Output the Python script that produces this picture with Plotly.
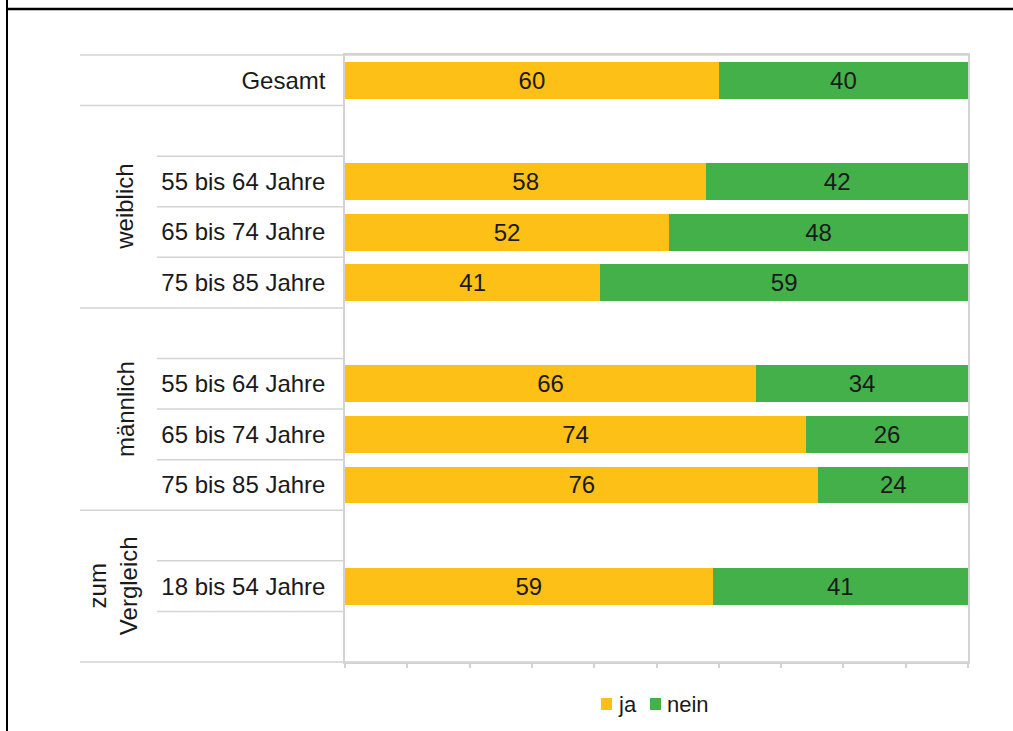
import plotly.graph_objects as go

# Rows of the chart, top to bottom (empty strings are spacer rows)
row_labels = ["Gesamt", "", "55 bis 64 Jahre", "65 bis 74 Jahre", "75 bis 85 Jahre",
              "", "55 bis 64 Jahre", "65 bis 74 Jahre", "75 bis 85 Jahre",
              "", "18 bis 54 Jahre", ""]
ja_values = [60, None, 58, 52, 41, None, 66, 74, 76, None, 59, None]
nein_values = [40, None, 42, 48, 59, None, 34, 26, 24, None, 41, None]

# Group captions: text and the rows they span
group_names = ["weiblich", "männlich", "zum<br>Vergleich"]
group_rows = [(1, 4), (5, 8), (9, 11)]

series_names = ["ja", "nein"]
series_colors = ["#FCC016", "#44B04A"]

W, H = 1013, 731
L, R, T, B = 345, 968, 55, 662  # plot area in pixels
FONT = "Arial, Liberation Sans, sans-serif"
TXT = "#1a1a1a"
GRID = "#D3D3D3"

def px_x(p):
    return (p - L) / (R - L)

def px_y(p):
    return (B - p) / (B - T)

rows = list(range(len(row_labels)))

fig = go.Figure()
for name, vals, col in zip(series_names, [ja_values, nein_values], series_colors):
    fig.add_trace(go.Bar(
        y=rows, x=vals, name=name, orientation="h",
        marker=dict(color=col, line=dict(width=0)),
        text=[("" if v is None else str(v)) for v in vals],
        textposition="inside", insidetextanchor="middle",
        textfont=dict(family=FONT, size=24, color=TXT),
        hoverinfo="skip", showlegend=False,
    ))

shapes = []
# row separators in the label column
full_bounds = [0.5, 4.5, 8.5]
short_bounds = [1.5, 2.5, 3.5, 5.5, 6.5, 7.5, 9.5, 10.5]
for b in full_bounds:
    shapes.append(dict(type="line", xref="paper", yref="y", x0=px_x(80), x1=0,
                       y0=b, y1=b, line=dict(color=GRID, width=1.5)))
for b in short_bounds:
    shapes.append(dict(type="line", xref="paper", yref="y", x0=px_x(157), x1=0,
                       y0=b, y1=b, line=dict(color=GRID, width=1.5)))
# top and bottom rules extending over the label column
for yy in [1, 0]:
    shapes.append(dict(type="line", xref="paper", yref="paper", x0=px_x(80), x1=1,
                       y0=yy, y1=yy, line=dict(color=GRID, width=1.5)))
# outer frame lines
shapes.append(dict(type="line", xref="paper", yref="paper", x0=px_x(7), x1=px_x(7),
                   y0=px_y(-5), y1=px_y(740), line=dict(color="black", width=2)))
shapes.append(dict(type="line", xref="paper", yref="paper", x0=px_x(6), x1=px_x(1020),
                   y0=px_y(9), y1=px_y(9), line=dict(color="black", width=2.5)))

annotations = []
for name, (r0, r1) in zip(group_names, group_rows):
    xc = 113 if "<br>" in name else 125
    annotations.append(dict(
        text=name, xref="paper", yref="y", x=px_x(xc), y=(r0 + r1) / 2,
        textangle=-90, showarrow=False, align="center",
        xanchor="center", yanchor="middle",
        font=dict(family=FONT, size=24, color=TXT),
    ))

# legend below the plot: colour square followed by series name
legend_sq_x = [601, 650]
legend_y = 704
for name, col, sx in zip(series_names, series_colors, legend_sq_x):
    shapes.append(dict(type="rect", xref="paper", yref="paper",
                       x0=px_x(sx), x1=px_x(sx + 11),
                       y0=px_y(legend_y - 6), y1=px_y(legend_y + 6),
                       fillcolor=col, line=dict(width=0)))
    annotations.append(dict(
        text=name, xref="paper", yref="paper", x=px_x(sx + 15), y=px_y(legend_y),
        xanchor="left", yanchor="middle", showarrow=False,
        font=dict(family=FONT, size=22, color=TXT),
    ))

fig.update_layout(
    width=W, height=H,
    margin=dict(l=L, r=W - R, t=T, b=H - B, pad=0),
    barmode="stack", bargap=0.27,
    plot_bgcolor="white", paper_bgcolor="white",
    showlegend=False,
    shapes=shapes, annotations=annotations,
    xaxis=dict(range=[0, 100], dtick=10, showgrid=False, zeroline=False,
               showticklabels=False, ticks="outside", ticklen=4, tickcolor=GRID, tickwidth=1.5,
               showline=True, linecolor=GRID, linewidth=1.5, mirror=True, fixedrange=True),
    yaxis=dict(range=[len(rows) - 0.5, -0.5], tickvals=rows, ticktext=row_labels,
               showgrid=False, zeroline=False, ticks="", ticklabelstandoff=13,
               tickfont=dict(family=FONT, size=24, color=TXT),
               showline=True, linecolor=GRID, linewidth=1.5, mirror=True, fixedrange=True),
)

fig.write_html("out.html", config={"displayModeBar": False})
